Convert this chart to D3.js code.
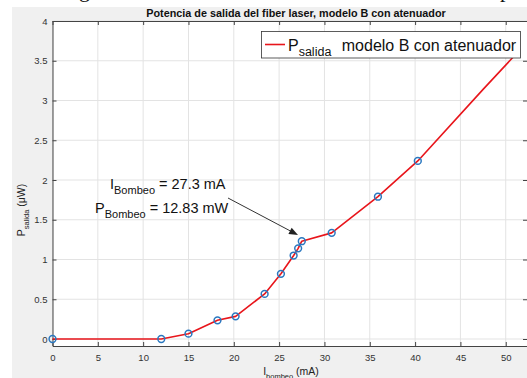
<!DOCTYPE html>
<html><head><meta charset="utf-8">
<script src="https://cdn.jsdelivr.net/npm/d3@7"></script>
<style>body{margin:0;background:#fff;}svg{display:block;}</style>
</head><body>
<script>
// Data
const markerX = [0, 12, 15, 18.2, 20.2, 23.4, 25.2, 26.6, 27.1, 27.5, 30.8, 35.9, 40.3];
const markerY = [0, 0, 0.067, 0.235, 0.285, 0.567, 0.82, 1.05, 1.14, 1.23, 1.335, 1.79, 2.24];
const lineEndX = [47.5, 51.5];
const lineEndY = [3.14, 3.63];
const xTicks = [0,5,10,15,20,25,30,35,40,45,50];
const yTicks = [0,0.5,1,1.5,2,2.5,3,3.5,4];
const titleText = "Potencia de salida del fiber laser, modelo B con atenuador";
const legendText = " modelo B con atenuador";
const annI = " = 27.3 mA";
const annP = " = 12.83 mW";

(function(){
const W = 527, H = 378;
const svg = d3.select("body").append("svg").attr("width", W).attr("height", H);
const font = "Liberation Sans, Arial, Helvetica, sans-serif";

// page caption fragments (cut off at top in the reference)
svg.append("text").attr("x", 79).attr("y", -3).attr("font-family","Liberation Serif, Times New Roman, serif").attr("font-size", 22).attr("fill","#111").text("g");
svg.append("text").attr("x", 500).attr("y", -3).attr("font-family","Liberation Serif, Times New Roman, serif").attr("font-size", 22).attr("fill","#111").text("p");

// figure background
svg.append("rect").attr("x", 12).attr("y", 7).attr("width", W - 12).attr("height", H - 7).attr("fill", "#f0f0f0");

const pL = 52.5, pR = 527.5, pT = 21, pB = 346;
const x = d3.scaleLinear().domain([0, 52.4]).range([pL, pR]);
const y = d3.scaleLinear().domain([-0.088, 4]).range([pB, pT]);

svg.append("rect").attr("x", pL).attr("y", pT).attr("width", pR - pL).attr("height", pB - pT).attr("fill", "#fff");

// grid
const g = svg.append("g");
g.selectAll(".gx").data(xTicks).enter().append("line")
  .attr("x1", d => x(d)).attr("x2", d => x(d)).attr("y1", pT).attr("y2", pB)
  .attr("stroke", "#e3e3e3").attr("stroke-width", 1);
g.selectAll(".gy").data(yTicks).enter().append("line")
  .attr("y1", d => y(d)).attr("y2", d => y(d)).attr("x1", pL).attr("x2", pR)
  .attr("stroke", "#e3e3e3").attr("stroke-width", 1);

// axes
const axB = d3.axisBottom(x).tickValues(xTicks).tickSizeInner(-4).tickSizeOuter(0).tickPadding(8).tickFormat(d3.format("d"));
const axT = d3.axisTop(x).tickValues(xTicks).tickSizeInner(-4).tickSizeOuter(0).tickFormat("");
const axL = d3.axisLeft(y).tickValues(yTicks).tickSizeInner(-4).tickSizeOuter(0).tickPadding(5).tickFormat(d => d3.format("")(d));
const axR = d3.axisRight(y).tickValues(yTicks).tickSizeInner(-4).tickSizeOuter(0).tickFormat("");
function style(sel){
  sel.selectAll("path").attr("stroke", "#444").attr("stroke-width", 1);
  sel.selectAll("line").attr("stroke", "#444");
  sel.selectAll("text").attr("fill", "#333").attr("font-family", font).attr("font-size", 9.5);
}
svg.append("g").attr("transform", `translate(0,${pB})`).call(axB).call(style);
svg.append("g").attr("transform", `translate(0,${pT})`).call(axT).call(style);
svg.append("g").attr("transform", `translate(${pL},0)`).call(axL).call(style);
svg.append("g").attr("transform", `translate(${pR - 0.5},0)`).call(axR).call(style);

// line
const pts = markerX.map((d, i) => [d, markerY[i]]).concat(lineEndX.map((d, i) => [d, lineEndY[i]]));
const line = d3.line().x(d => x(d[0])).y(d => y(d[1])).curve(d3.curveLinear);
svg.append("path").datum(pts).attr("d", line).attr("fill", "none").attr("stroke", "#e8151b").attr("stroke-width", 1.6)
  .attr("stroke-linejoin", "round");

// markers
svg.selectAll(".m").data(markerX.map((d, i) => [d, markerY[i]])).enter().append("circle")
  .attr("cx", d => x(d[0])).attr("cy", d => y(d[1])).attr("r", 3.4)
  .attr("fill", "none").attr("stroke", "#2a78c0").attr("stroke-width", 1.5);

// title
svg.append("text").attr("x", 296).attr("y", 16.5).attr("text-anchor", "middle")
  .attr("font-family", font).attr("font-weight", "bold").attr("font-size", 10.8).attr("fill", "#111").text(titleText);

// x label
const xl = svg.append("text").attr("x", 291).attr("y", 375).attr("text-anchor", "middle")
  .attr("font-family", font).attr("font-size", 10.5).attr("fill", "#222");
xl.append("tspan").text("I");
xl.append("tspan").attr("dy", 4).attr("font-size", 7.5).text("bombeo");
xl.append("tspan").attr("dy", -4).text(" (mA)");

// y label
const yl = svg.append("text").attr("transform", "translate(25,210) rotate(-90)").attr("text-anchor", "middle")
  .attr("font-family", font).attr("font-size", 10.5).attr("fill", "#222");
yl.append("tspan").text("P");
yl.append("tspan").attr("dy", 4).attr("font-size", 7.5).text("salida");
yl.append("tspan").attr("dy", -4).text(" (\u03bcW)");

// legend
svg.append("rect").attr("x", 261.5).attr("y", 31.5).attr("width", 259).attr("height", 26.5)
  .attr("fill", "#fff").attr("stroke", "#333").attr("stroke-width", 0.8);
svg.append("line").attr("x1", 265).attr("x2", 285).attr("y1", 44.5).attr("y2", 44.5)
  .attr("stroke", "#e8151b").attr("stroke-width", 1.6);
const lt = svg.append("text").attr("x", 288).attr("y", 50.5).attr("font-family", font).attr("font-size", 16).attr("fill", "#111");
lt.append("tspan").text("P");
lt.append("tspan").attr("dy", 5).attr("font-size", 12.5).text("salida");
lt.append("tspan").attr("dy", -5).attr("dx", 6).text(legendText);

// annotation
const a1 = svg.append("text").attr("x", 110).attr("y", 189).attr("font-family", font).attr("font-size", 14.5).attr("fill", "#111");
a1.append("tspan").text("I");
a1.append("tspan").attr("dy", 5).attr("font-size", 11).text("Bombeo");
a1.append("tspan").attr("dy", -5).text(annI);
const a2 = svg.append("text").attr("x", 95).attr("y", 213).attr("font-family", font).attr("font-size", 14.5).attr("fill", "#111");
a2.append("tspan").text("P");
a2.append("tspan").attr("dy", 5).attr("font-size", 11).text("Bombeo");
a2.append("tspan").attr("dy", -5).text(annP);

// arrow
const ax0 = 228, ay0 = 198, ax1 = 298, ay1 = 235;
const ang = Math.atan2(ay1 - ay0, ax1 - ax0);
svg.append("line").attr("x1", ax0).attr("y1", ay0).attr("x2", ax1 - 6 * Math.cos(ang)).attr("y2", ay1 - 6 * Math.sin(ang))
  .attr("stroke", "#333").attr("stroke-width", 1);
const hl = 9, hw = 3.5;
const bx = ax1 - hl * Math.cos(ang), by = ay1 - hl * Math.sin(ang);
svg.append("path").attr("d", `M${ax1},${ay1} L${bx - hw * Math.sin(ang)},${by + hw * Math.cos(ang)} L${bx + hw * Math.sin(ang)},${by - hw * Math.cos(ang)} Z`)
  .attr("fill", "#222");
})();
</script>
</body></html>
